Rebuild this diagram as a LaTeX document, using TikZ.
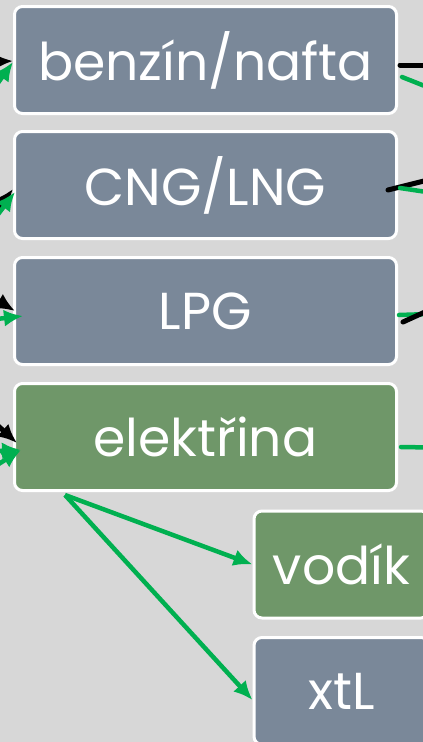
\documentclass[tikz,border=0pt]{standalone}
\usepackage{fontspec}
\setmainfont{Poppins}
\usetikzlibrary{arrows.meta}
\definecolor{bgray}{HTML}{D7D7D7}
\definecolor{slate}{HTML}{7A8899}
\definecolor{moss}{HTML}{6F9769}
\definecolor{arrgreen}{HTML}{00B050}
\tikzset{
    fuel/.style={draw=white, line width=3pt, rounded corners=8pt, fill=slate,
        minimum width=382pt, minimum height=107pt, text=white,
        font=\fontsize{52}{56}\selectfont},
    fuelsmall/.style={fuel, minimum width=175pt},
    garrow/.style={arrgreen, line width=4.5pt, -{Latex[length=19pt,width=17pt]}},
    karrow/.style={black, line width=5pt, -{Latex[length=19pt,width=17pt]}},
    gline/.style={arrgreen, line width=4.5pt, line cap=round},
    kline/.style={black, line width=5pt, line cap=round}
}
\begin{document}
\begin{tikzpicture}[x=1pt,y=-1pt]
	    \useasboundingbox (0,0) rectangle (423,742);
	    \fill[bgray] (0,0) rectangle (423,742);
	    \clip (0,0) rectangle (423,742);
	    \node[fuel] (benzin) at (205.5,60) {benzín/nafta};
	    \node[fuel] (cng) at (205.5,185) {CNG/LNG};
	    \node[fuel] (lpg) at (205.5,311) {LPG};
	    \node[fuel, fill=moss] (elektrina) at (205.5,437) {elektřina};
	    \node[fuelsmall, fill=moss] (vodik) at (341.5,564.5) {vodík};
	    \node[fuelsmall] (xtl) at (341.5,691) {xtL};
	    % arrows coming in from the left
	    \coordinate (inA) at (-40,63);
	    \coordinate (inB) at (-20,108);
	    \coordinate (inC) at (-30,245);
	    \coordinate (inD) at (-20,238);
	    \coordinate (inE) at (-20,290);
	    \coordinate (inF) at (-30,322);
	    \coordinate (inG) at (-25,405);
	    \coordinate (inH) at (-30,452);
	    \coordinate (inI) at (-30,482);
	    \draw[karrow] (inA) -- ([yshift=-1]benzin.west);
	    \draw[garrow] (inB) -- ([yshift=-2]benzin.west);
	    \draw[karrow] (inC) -- ([yshift=-4]cng.west);
	    \draw[garrow] (inD) -- ([xshift=2,yshift=-7]cng.west);
	    \draw[karrow] (inE) -- ([xshift=2]lpg.west);
	    \draw[garrow] (inF) -- ([xshift=10,yshift=-5]lpg.west);
	    \draw[karrow] (inG) -- ([xshift=4,yshift=-6]elektrina.west);
	    \draw[garrow] (inH) -- ([xshift=8,yshift=-13]elektrina.west);
	    \draw[garrow] (inI) -- ([xshift=8,yshift=-13]elektrina.west);
	    % lines going out to the right
	    \coordinate (outA) at (460,65);
	    \coordinate (outB) at (460,100);
	    \coordinate (outC) at (460,172);
	    \coordinate (outD) at (460,197);
	    \coordinate (outE) at (460,313);
	    \coordinate (outF) at (460,296);
	    \coordinate (outG) at (460,448);
	    \draw[kline] ([xshift=2,yshift=-5]benzin.east) -- (outA);
	    \draw[gline] ([xshift=4,yshift=-17]benzin.east) -- (outB);
	    \draw[kline] ([xshift=-10,yshift=-5]cng.east) -- (outC);
	    \draw[gline] ([xshift=2,yshift=-3]cng.east) -- (outD);
	    \draw[gline] ([xshift=1,yshift=-4]lpg.east) -- (outE);
	    \draw[kline] ([xshift=5,yshift=-11]lpg.east) -- (outF);
	    \draw[gline] ([xshift=3,yshift=-10]elektrina.east) -- (outG);
	    % from elektrina down to the new fuels
	    \coordinate (split) at (65,495);
	    \draw[garrow] (split) -- (vodik.west);
	    \draw[garrow] (split) -- ([yshift=-9]xtl.west);
	\end{tikzpicture}
\end{document}
